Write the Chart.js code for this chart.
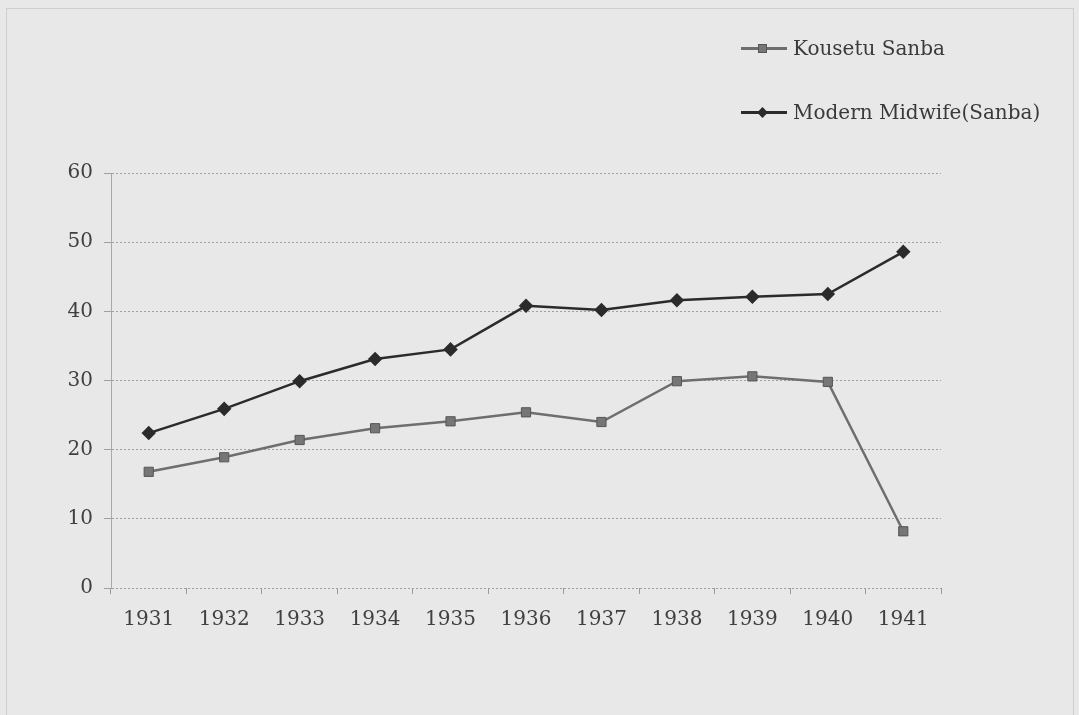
<!DOCTYPE html>
<html>
<head>
<meta charset="utf-8">
<script src="https://cdn.jsdelivr.net/npm/chart.js@4.4.1/dist/chart.umd.min.js"></script>
<style>
  html, body { margin: 0; padding: 0; background: #e8e8e8; }
  #wrap { position: relative; width: 1079px; height: 715px; overflow: hidden; }
  #frame { position: absolute; left: 6px; top: 8px; width: 1066px; height: 720px; border: 1px solid #cfcfcf; }
  canvas { position: absolute; left: 0; top: 0; }
  .leg { position: absolute; left: 741px; font-family: "DejaVu Serif", serif; font-size: 20px; color: #3a3a3a; display: flex; align-items: center; white-space: nowrap; }
  .leg .ln { width: 46px; height: 3px; position: relative; margin-right: 6px; }
  .leg .mk { position: absolute; left: 17px; top: -3px; width: 9px; height: 9px; box-sizing: border-box; }
</style>
</head>
<body>
<div id="wrap">
  <div id="frame"></div>
  <canvas id="c" width="1079" height="715"></canvas>
  <div class="leg" style="top:36px"><div class="ln" style="background:#6e6e6e"><div class="mk" style="background:#767676;border:1px solid #555"></div></div><span id="l0"></span></div>
  <div class="leg" style="top:100px"><div class="ln" style="background:#2b2b2b"><div class="mk" style="background:#2b2b2b;transform:rotate(45deg) scale(0.85)"></div></div><span id="l1"></span></div>
</div>
<script>
const years = ["1931","1932","1933","1934","1935","1936","1937","1938","1939","1940","1941"];
const seriesNames = ["Kousetu Sanba", "Modern Midwife(Sanba)"];
const kousetu = [16.8, 18.9, 21.4, 23.1, 24.1, 25.4, 24.0, 29.9, 30.6, 29.8, 8.2];
const modern  = [22.4, 25.9, 29.9, 33.1, 34.5, 40.8, 40.2, 41.6, 42.1, 42.5, 48.6];
const yTicks = [0, 10, 20, 30, 40, 50, 60];

document.getElementById('l0').textContent = seriesNames[0];
document.getElementById('l1').textContent = seriesNames[1];

const font = { family: "DejaVu Serif", size: 20 };
new Chart(document.getElementById('c'), {
  type: 'line',
  data: {
    labels: years,
    datasets: [
      { label: seriesNames[0], data: kousetu, borderColor: '#6e6e6e', backgroundColor: '#767676',
        pointBorderColor: '#555', pointBorderWidth: 1, pointStyle: 'rect', pointRadius: 6.5, borderWidth: 2.5, tension: 0 },
      { label: seriesNames[1], data: modern, borderColor: '#2b2b2b', backgroundColor: '#2b2b2b',
        pointBorderColor: '#2b2b2b', pointStyle: 'rectRot', pointRadius: 5.5, borderWidth: 2.5, tension: 0 }
    ]
  },
  options: {
    responsive: false,
    animation: false,
    layout: { padding: { left: 51, right: 138, top: 173, bottom: 87 } },
    plugins: { legend: { display: false }, tooltip: { enabled: false } },
    scales: {
      x: {
        offset: true,
        grid: { offset: true, drawOnChartArea: false, drawTicks: true, tickLength: 6, color: '#9a9a9a' },
        border: { display: false },
        ticks: { font: font, color: '#404040', padding: 14, maxRotation: 0 },
        afterFit: s => { s.height = 40; }
      },
      y: {
        min: 0, max: 60,
        afterBuildTicks: s => { s.ticks = yTicks.map(v => ({ value: v })); },
        grid: { color: '#a0a0a0', tickLength: 7, lineWidth: 1 },
        border: { display: true, color: '#a8a8a8', dash: [2, 2] },
        ticks: { font: font, color: '#404040', padding: 11 },
        afterFit: s => { s.width = 60; }
      }
    }
  }
});
</script>
</body>
</html>
